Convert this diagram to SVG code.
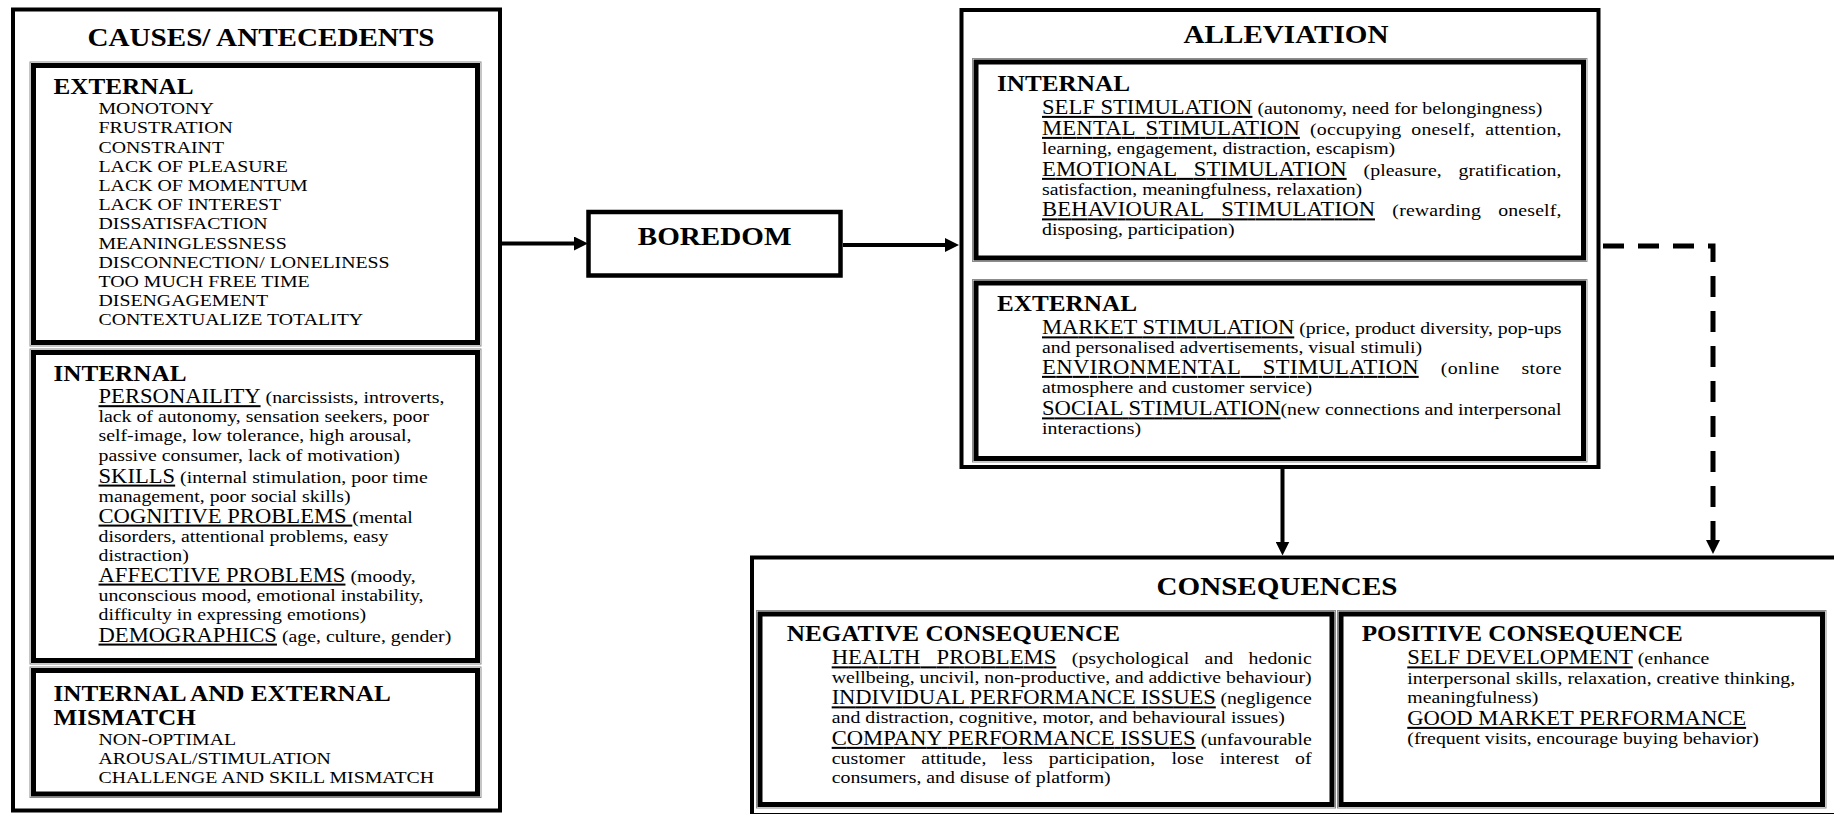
<svg xmlns="http://www.w3.org/2000/svg" width="1834" height="814" viewBox="0 0 1834 814">
  <style>
    text { font-family: "Liberation Serif", "Times New Roman", serif; fill: #000; }
    .ttl { font-size: 26px; font-weight: bold; }
    .hd { font-size: 22.5px; font-weight: bold; }
    .b { font-size: 17.7px; }
    .k { font-size: 20.2px; text-decoration: underline; }
    .frame { fill: none; stroke: #000; stroke-width: 4; }
    .panel { fill: none; stroke: #000; stroke-width: 5; }
    .hair { fill: none; stroke: #8c8c8c; stroke-width: 1; }
    .link { fill: none; stroke: #000; stroke-width: 4; marker-end: url(#ah); }
    .dash { fill: none; stroke: #000; stroke-width: 5; stroke-dasharray: 21 14; marker-end: url(#ah); }
  </style>
  <defs>
    <marker id="ah" viewBox="0 0 14 14" refX="6" refY="7" markerWidth="14" markerHeight="14" markerUnits="userSpaceOnUse" orient="auto">
      <path d="M0,0 L14,7 L0,14 Z" fill="#000"/>
    </marker>
  </defs>
  <rect width="1834" height="814" fill="#fff"/>

  <!-- Causes / antecedents -->
  <g id="causes">
    <rect class="frame" x="13" y="9.5" width="487" height="801"/>
    <g id="causes-external">
      <rect class="hair" x="30" y="62" width="451" height="284"/>
      <rect class="panel" x="33.5" y="65.5" width="444" height="277"/>
    </g>
    <g id="causes-internal">
      <rect class="hair" x="30" y="349" width="451" height="315"/>
      <rect class="panel" x="33.5" y="352.5" width="444" height="308"/>
    </g>
    <g id="causes-mismatch">
      <rect class="hair" x="30" y="667" width="451" height="130.5"/>
      <rect class="panel" x="33.5" y="670.5" width="444" height="123.5"/>
    </g>
    <g transform="scale(1.12 1)">
      <text class="ttl" x="233.04" y="46.5" text-anchor="middle">CAUSES/ ANTECEDENTS</text>
      <text class="hd" x="47.77" y="94">EXTERNAL</text>
      <text class="b" x="87.95" y="114.3">MONOTONY</text>
      <text class="b" x="87.95" y="133.5">FRUSTRATION</text>
      <text class="b" x="87.95" y="152.7">CONSTRAINT</text>
      <text class="b" x="87.95" y="171.9">LACK OF PLEASURE</text>
      <text class="b" x="87.95" y="191.1">LACK OF MOMENTUM</text>
      <text class="b" x="87.95" y="210.3">LACK OF INTEREST</text>
      <text class="b" x="87.95" y="229.5">DISSATISFACTION</text>
      <text class="b" x="87.95" y="248.7">MEANINGLESSNESS</text>
      <text class="b" x="87.95" y="267.9">DISCONNECTION/ LONELINESS</text>
      <text class="b" x="87.95" y="287.1">TOO MUCH FREE TIME</text>
      <text class="b" x="87.95" y="306.3">DISENGAGEMENT</text>
      <text class="b" x="87.95" y="325.5">CONTEXTUALIZE TOTALITY</text>

      <text class="hd" x="47.77" y="381">INTERNAL</text>
      <text class="b" x="87.95" y="403.3"><tspan class="k">PERSONAILITY</tspan> (narcissists, introverts,</text>
      <text class="b" x="87.95" y="422">lack of autonomy, sensation seekers, poor</text>
      <text class="b" x="87.95" y="441">self-image, low tolerance, high arousal,</text>
      <text class="b" x="87.95" y="460.7">passive consumer, lack of motivation)</text>
      <text class="b" x="87.95" y="482.7"><tspan class="k">SKILLS</tspan> (internal stimulation, poor time</text>
      <text class="b" x="87.95" y="501.7">management, poor social skills)</text>
      <text class="b" x="87.95" y="522.7"><tspan class="k">COGNITIVE PROBLEMS </tspan>(mental</text>
      <text class="b" x="87.95" y="541.7">disorders, attentional problems, easy</text>
      <text class="b" x="87.95" y="560.7">distraction)</text>
      <text class="b" x="87.95" y="581.7"><tspan class="k">AFFECTIVE PROBLEMS</tspan> (moody,</text>
      <text class="b" x="87.95" y="601">unconscious mood, emotional instability,</text>
      <text class="b" x="87.95" y="620">difficulty in expressing emotions)</text>
      <text class="b" x="87.95" y="641.7"><tspan class="k">DEMOGRAPHICS</tspan> (age, culture, gender)</text>

      <text class="hd" x="47.77" y="700.7">INTERNAL AND EXTERNAL</text>
      <text class="hd" x="47.77" y="725">MISMATCH</text>
      <text class="b" x="87.95" y="745">NON-OPTIMAL</text>
      <text class="b" x="87.95" y="764.2">AROUSAL/STIMULATION</text>
      <text class="b" x="87.95" y="783.4">CHALLENGE AND SKILL MISMATCH</text>
    </g>
  </g>

  <!-- Boredom -->
  <g id="boredom">
    <rect x="588.5" y="212" width="252" height="63.5" fill="#fff" stroke="#000" stroke-width="4.5"/>
    <g transform="scale(1.12 1)">
      <text class="ttl" x="638.04" y="245" text-anchor="middle">BOREDOM</text>
    </g>
  </g>

  <!-- Alleviation -->
  <g id="alleviation">
    <rect class="frame" x="961.5" y="10" width="637" height="457"/>
    <g id="alleviation-internal">
      <rect class="hair" x="972.5" y="58.5" width="614.5" height="203"/>
      <rect class="panel" x="976" y="62" width="607.5" height="196"/>
    </g>
    <g id="alleviation-external">
      <rect class="hair" x="972.5" y="279.5" width="614.5" height="182.5"/>
      <rect class="panel" x="976" y="283" width="607.5" height="175.5"/>
    </g>
    <g transform="scale(1.12 1)">
      <text class="ttl" x="1148.21" y="43" text-anchor="middle">ALLEVIATION</text>
      <text class="hd" x="890.18" y="91.5">INTERNAL</text>
      <text class="b" x="930.36" y="114"><tspan class="k">SELF STIMULATION</tspan> (autonomy, need for belongingness)</text>
      <text class="b" x="930.36" y="135" textLength="463.84" lengthAdjust="spacing" style="word-spacing:4.3px"><tspan class="k">MENTAL STIMULATION</tspan> (occupying oneself, attention,</text>
      <text class="b" x="930.36" y="154.5">learning, engagement, distraction, escapism)</text>
      <text class="b" x="930.36" y="176" textLength="463.84" lengthAdjust="spacing" style="word-spacing:10.4px"><tspan class="k">EMOTIONAL STIMULATION</tspan> (pleasure, gratification,</text>
      <text class="b" x="930.36" y="195">satisfaction, meaningfulness, relaxation)</text>
      <text class="b" x="930.36" y="216.5" textLength="463.84" lengthAdjust="spacing" style="word-spacing:10.8px"><tspan class="k">BEHAVIOURAL STIMULATION</tspan> (rewarding oneself,</text>
      <text class="b" x="930.36" y="235.5">disposing, participation)</text>

      <text class="hd" x="890.18" y="310.7">EXTERNAL</text>
      <text class="b" x="930.36" y="334.5" textLength="463.84" lengthAdjust="spacing"><tspan class="k">MARKET STIMULATION</tspan> (price, product diversity, pop-ups</text>
      <text class="b" x="930.36" y="353">and personalised advertisements, visual stimuli)</text>
      <text class="b" x="930.36" y="374" textLength="463.84" lengthAdjust="spacing" style="word-spacing:14.7px"><tspan class="k">ENVIRONMENTAL STIMULATION</tspan> (online store</text>
      <text class="b" x="930.36" y="393.5">atmosphere and customer service)</text>
      <text class="b" x="930.36" y="415.5" textLength="463.84" lengthAdjust="spacing"><tspan class="k">SOCIAL STIMULATION</tspan>(new connections and interpersonal</text>
      <text class="b" x="930.36" y="434.5">interactions)</text>
    </g>
  </g>

  <!-- Consequences -->
  <g id="consequences">
    <rect class="frame" x="752" y="557.5" width="1100" height="257.5"/>
    <g id="consequences-negative">
      <rect class="hair" x="756.5" y="610.5" width="579" height="197.5"/>
      <rect class="panel" x="760" y="614" width="572" height="190.5"/>
    </g>
    <g id="consequences-positive">
      <rect class="hair" x="1337.5" y="610.5" width="488.5" height="197.5"/>
      <rect class="panel" x="1341" y="614" width="481.5" height="190.5"/>
    </g>
    <g transform="scale(1.12 1)">
      <text class="ttl" x="1140.18" y="595" text-anchor="middle">CONSEQUENCES</text>

      <text class="hd" x="702.41" y="641">NEGATIVE CONSEQUENCE</text>
      <text class="b" x="742.59" y="664.5" textLength="428.57" lengthAdjust="spacing" style="word-spacing:9.2px"><tspan class="k">HEALTH PROBLEMS</tspan> (psychological and hedonic</text>
      <text class="b" x="742.59" y="683.5" textLength="428.57" lengthAdjust="spacing">wellbeing, uncivil, non-productive, and addictive behaviour)</text>
      <text class="b" x="742.59" y="704.5" textLength="428.57" lengthAdjust="spacing"><tspan class="k">INDIVIDUAL PERFORMANCE ISSUES</tspan> (negligence</text>
      <text class="b" x="742.59" y="723.5">and distraction, cognitive, motor, and behavioural issues)</text>
      <text class="b" x="742.59" y="745" textLength="428.57" lengthAdjust="spacing"><tspan class="k">COMPANY PERFORMANCE ISSUES</tspan> (unfavourable</text>
      <text class="b" x="742.59" y="764" textLength="428.57" lengthAdjust="spacing" style="word-spacing:9.8px">customer attitude, less participation, lose interest of</text>
      <text class="b" x="742.59" y="783">consumers, and disuse of platform)</text>

      <text class="hd" x="1215.8" y="641">POSITIVE CONSEQUENCE</text>
      <text class="b" x="1256.52" y="664.5"><tspan class="k">SELF DEVELOPMENT</tspan> (enhance</text>
      <text class="b" x="1256.52" y="684">interpersonal skills, relaxation, creative thinking,</text>
      <text class="b" x="1256.52" y="703">meaningfulness)</text>
      <text class="b" x="1256.52" y="725"><tspan class="k">GOOD MARKET PERFORMANCE</tspan></text>
      <text class="b" x="1256.52" y="744">(frequent visits, encourage buying behavior)</text>
    </g>
  </g>

  <!-- Connectors -->
  <g id="connectors">
    <path class="link" d="M502,243.5 H580"/>
    <path class="link" d="M843,245 H951"/>
    <path class="link" d="M1282.5,469 V547.5"/>
    <path class="dash" d="M1603,246 H1713 V546"/>
  </g>
</svg>
